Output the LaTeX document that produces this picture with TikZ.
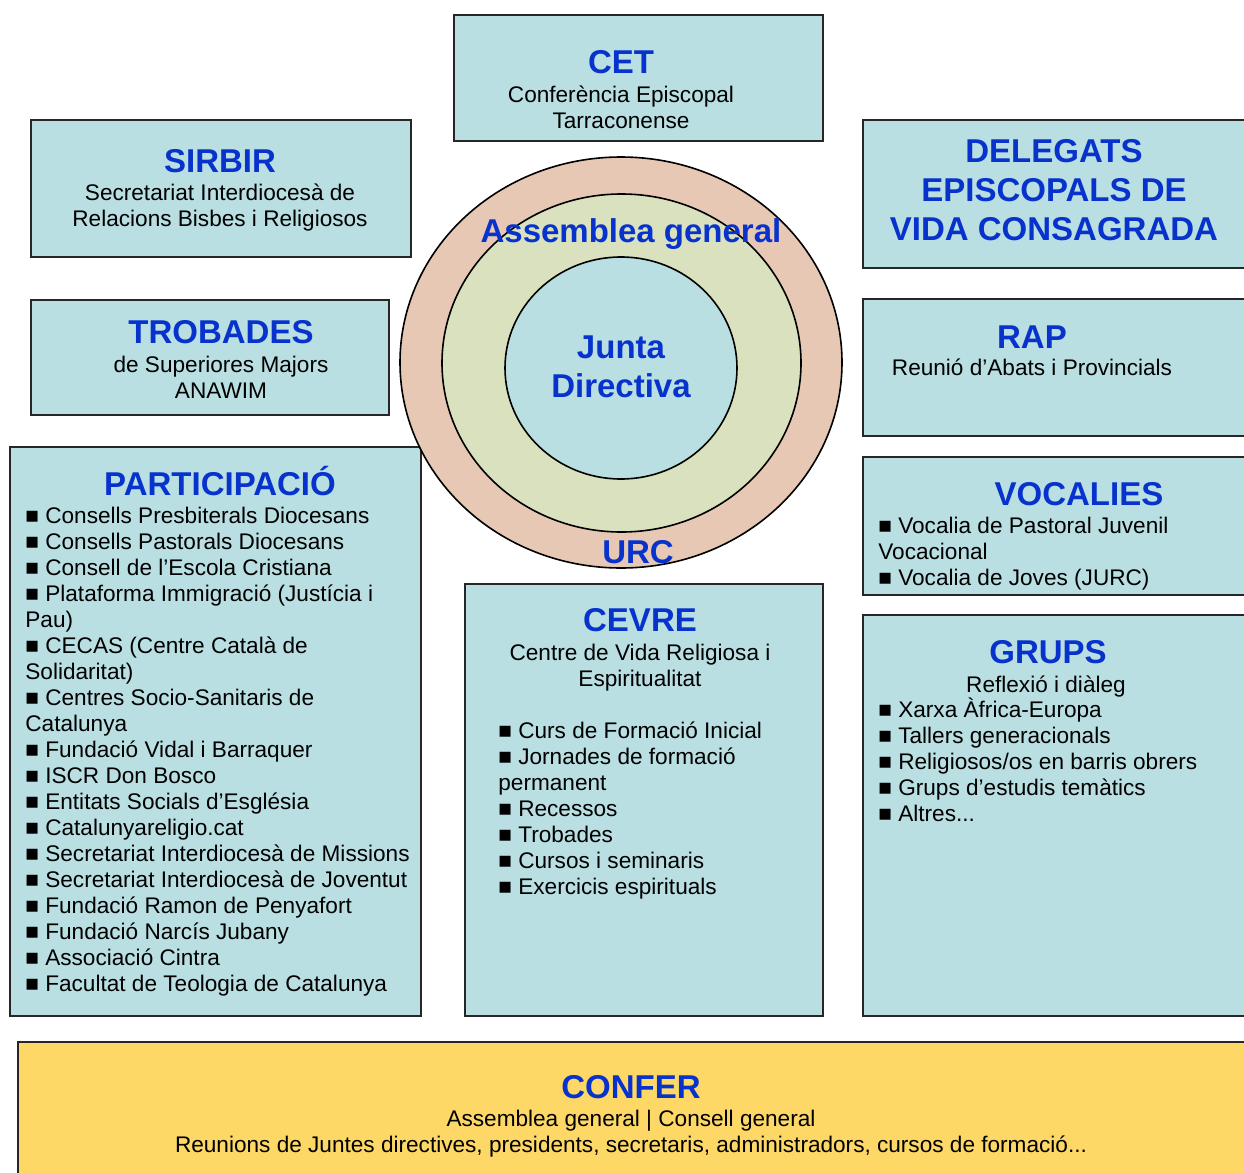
\documentclass[tikz,border=0pt]{standalone}
\usepackage{fontspec}
\setmainfont{Liberation Sans}
\definecolor{boxblue}{RGB}{185,223,227}
\definecolor{ringpeach}{RGB}{230,200,180}
\definecolor{ringgreen}{RGB}{217,225,190}
\definecolor{conferyellow}{RGB}{253,216,102}
\definecolor{titleblue}{RGB}{8,50,204}
\tikzset{
  panel/.style={draw=black!85,line width=1pt,fill=boxblue},
  ring/.style={draw=black,line width=0.8pt},
  heading/.style={font=\fontsize{16.5}{19.3}\selectfont\bfseries,text=titleblue,inner sep=0pt,anchor=base,align=center},
  body/.style={font=\fontsize{11.3}{13}\selectfont,inner sep=0pt,anchor=base,align=center},
  items/.style={font=\fontsize{11.3}{13}\selectfont,inner sep=0pt,anchor=base west,align=left},
}
\begin{document}
\begin{tikzpicture}[x=0.5pt,y=-0.5pt]
    \useasboundingbox (0,0) rectangle (1244,1173);
    \clip (0,0) rectangle (1244,1173);
    \fill[white] (0,0) rectangle (1244,1173);
    \draw[panel] (454,15) rectangle (823,141);
    \draw[panel] (31,120) rectangle (411,257);
    \draw[panel] (31,300) rectangle (389,415);
    \draw[panel] (863,120) rectangle (1260,268);
    \draw[panel] (863,299) rectangle (1260,436);
    \draw[panel] (10,447) rectangle (421,1016);
    \draw[panel] (863,457) rectangle (1260,595);
    \draw[panel] (863,615) rectangle (1260,1016);
    \draw[panel] (465,584) rectangle (823,1016);
    \draw[panel,fill=conferyellow] (18,1042) rectangle (1260,1190);
    \draw[ring,fill=ringpeach] (621,362.5) ellipse [x radius=221,y radius=205.5];
    \draw[ring,fill=ringgreen] (621.5,363) ellipse [x radius=179.5,y radius=169];
    \draw[ring,fill=boxblue] (621,368) ellipse [x radius=116,y radius=111];
    \node[heading] (cet) at (621,73) {CET};
    \node[body] (cetsub) at (621,128) {Conferència Episcopal\\Tarraconense};
    \node[heading] (sirbir) at (220,172) {SIRBIR};
    \node[body] (sirbirsub) at (220,226) {Secretariat Interdiocesà de\\Relacions Bisbes i Religiosos};
    \node[heading] (trobades) at (221,343) {TROBADES};
    \node[body] (trobadessub) at (221,398) {de Superiores Majors\\ANAWIM};
    \node[heading] (delegats) at (1054,240) {DELEGATS\\EPISCOPALS DE\\VIDA CONSAGRADA};
    \node[heading] (rap) at (1032,348) {RAP};
    \node[body] (rapsub) at (1032,375) {Reunió d’Abats i Provincials};
    \node[heading] (assemblea) at (631,242) {Assemblea general};
    \node[heading,font=\fontsize{16.5}{19.5}\selectfont\bfseries] (junta) at (621,397) {Junta\\Directiva};
    \node[heading] (urc) at (638,563) {URC};
    \node[heading] (particip) at (220,495) {PARTICIPACIÓ};
    \node[items] (participlist) at (25,991) {■ Consells Presbiterals Diocesans\\
        ■ Consells Pastorals Diocesans\\
        ■ Consell de l’Escola Cristiana\\
        ■ Plataforma Immigració (Justícia i\\
        Pau)\\
        ■ CECAS (Centre Català de\\
        Solidaritat)\\
        ■ Centres Socio-Sanitaris de\\
        Catalunya\\
        ■ Fundació Vidal i Barraquer\\
        ■ ISCR Don Bosco\\
        ■ Entitats Socials d’Església\\
        ■ Catalunyareligio.cat\\
        ■ Secretariat Interdiocesà de Missions\\
        ■ Secretariat Interdiocesà de Joventut\\
        ■ Fundació Ramon de Penyafort\\
        ■ Fundació Narcís Jubany\\
        ■ Associació Cintra\\
        ■ Facultat de Teologia de Catalunya};
    \node[heading] (vocalies) at (1079,505) {VOCALIES};
    \node[items] (vocalieslist) at (878,585) {■ Vocalia de Pastoral Juvenil\\
        Vocacional\\
        ■ Vocalia de Joves (JURC)};
    \node[heading] (cevre) at (640,631) {CEVRE};
    \node[body] (cevresub) at (640,686) {Centre de Vida Religiosa i\\Espiritualitat};
    \node[items] (cevrelist) at (498,894) {■ Curs de Formació Inicial\\
        ■ Jornades de formació\\
        permanent\\
        ■ Recessos\\
        ■ Trobades\\
        ■ Cursos i seminaris\\
        ■ Exercicis espirituals};
    \node[heading] (grups) at (1048,663) {GRUPS};
    \node[body] (grupssub) at (1046,692) {Reflexió i diàleg};
    \node[items] (grupslist) at (878,821) {■ Xarxa Àfrica-Europa\\
        ■ Tallers generacionals\\
        ■ Religiosos/os en barris obrers\\
        ■ Grups d’estudis temàtics\\
        ■ Altres...};
    \node[heading] (confer) at (631,1098) {CONFER};
    \node[body] (confersub) at (631,1152) {Assemblea general | Consell general\\
        Reunions de Juntes directives, presidents, secretaris, administradors, cursos de formació...};
\end{tikzpicture}
\end{document}
